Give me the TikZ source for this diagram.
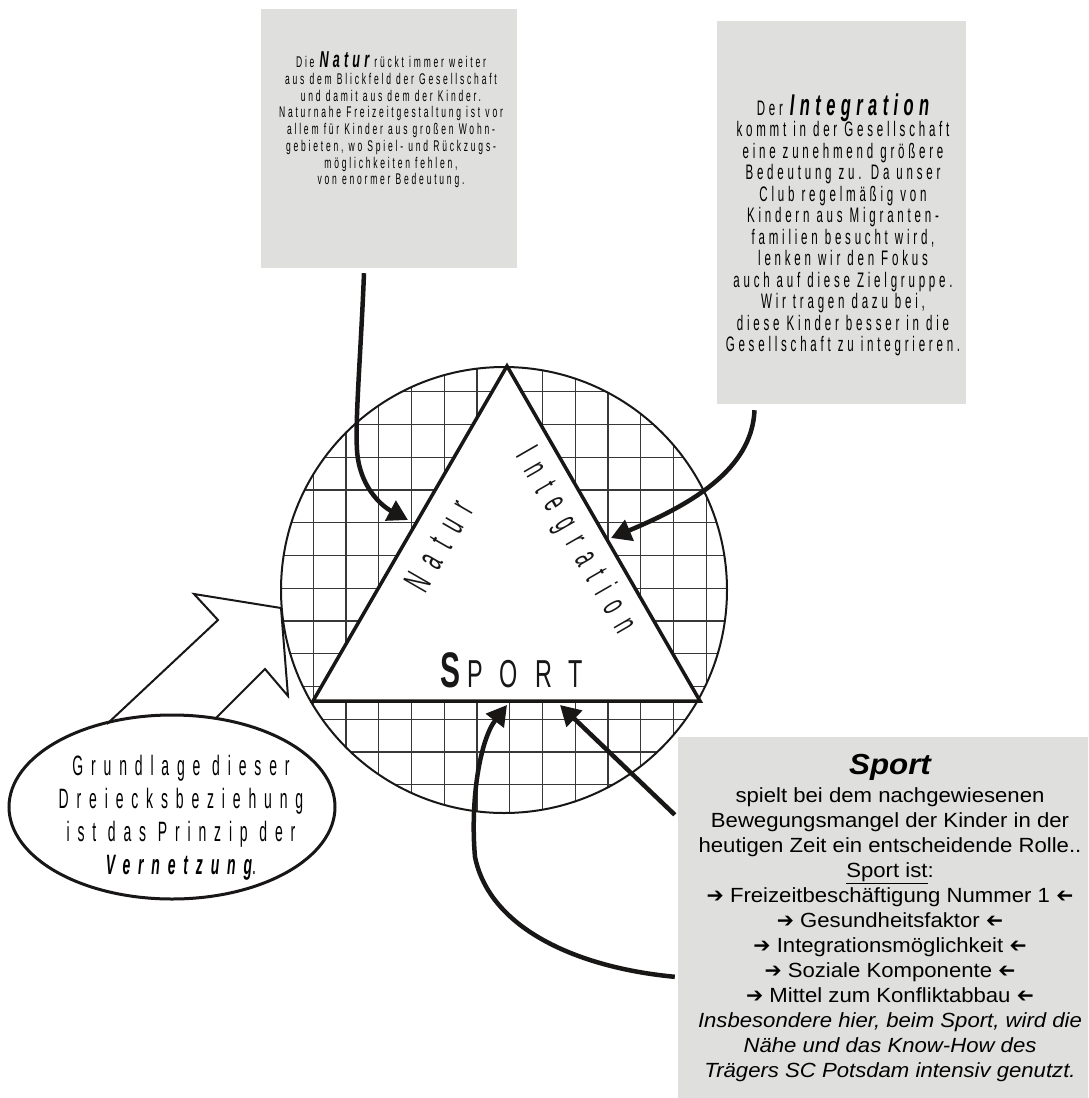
\documentclass[tikz,border=0pt]{standalone}
\usepackage{graphicx}
\usepackage{fontspec}
\setmainfont{Liberation Sans}
\newfontfamily\widesans[FakeStretch=1.08]{Liberation Sans}
\newfontfamily\smallnarrow[FakeStretch=0.55,LetterSpace=18]{Liberation Sans}
\newfontfamily\midnarrow[FakeStretch=0.55,LetterSpace=18]{Liberation Sans}
\newfontfamily\widenarrow[FakeStretch=0.5,LetterSpace=28]{Liberation Sans}
\newfontfamily\labelnarrow[FakeStretch=0.5,LetterSpace=34]{Liberation Sans}
\newfontfamily\baselabel[FakeStretch=0.6,LetterSpace=44]{Liberation Sans}
\newfontfamily\arrowfont{DejaVu Sans}
\usetikzlibrary{arrows.meta, shapes.geometric}
\definecolor{BoxGray}{RGB}{223,223,221}
\definecolor{InkBlack}{RGB}{25,22,22}
\definecolor{GridGray}{RGB}{55,55,55}
\newcommand{\rarr}{{\arrowfont ➔}}
\newcommand{\larr}{\reflectbox{\arrowfont ➔}}

\begin{document}
\begin{tikzpicture}[x=1pt, y=-1pt,
    textbox/.style={rectangle, fill=BoxGray, inner sep=0pt},
    ptr/.style={-{Triangle[length=20pt,width=22pt]}, line width=4.5pt, InkBlack},
    gridline/.style={GridGray, line width=1.3pt}
  ]
  \useasboundingbox (0,0) rectangle (1088,1098);

  % text boxes
  \node[textbox, minimum width=256pt, minimum height=259pt] (naturbox) at (389,138.5) {};
  \node[textbox, minimum width=249pt, minimum height=383pt] (integbox) at (841.5,212.5) {};
  \node[textbox, minimum width=410pt, minimum height=361pt] (sportbox) at (883,917.5) {};

  \node[align=center, font=\smallnarrow\fontsize{15.5}{16.7}\selectfont] (naturtext) at (391,120)
    {Die {\bfseries\itshape\fontsize{23}{16.7}\selectfont Natur} rückt immer weiter\\
     aus dem Blickfeld der Gesellschaft\\
     und damit aus dem der Kinder.\\
     Naturnahe Freizeitgestaltung ist vor\\
     allem für Kinder aus großen Wohn-\\
     gebieten, wo Spiel- und Rückzugs-\\
     möglichkeiten fehlen,\\
     von enormer Bedeutung.};
  \node[align=center, font=\midnarrow\fontsize{21}{21.5}\selectfont] (integtext) at (843,225)
    {Der {\bfseries\itshape\fontsize{30}{21.5}\selectfont Integration}\\
     kommt in der Gesellschaft\\
     eine zunehmend größere\\
     Bedeutung zu. Da unser\\
     Club regelmäßig von\\
     Kindern aus Migranten-\\
     familien besucht wird,\\
     lenken wir den Fokus\\
     auch auf diese Zielgruppe.\\
     Wir tragen dazu bei,\\
     diese Kinder besser in die\\
     Gesellschaft zu integrieren.};
  \node[align=center, font=\widesans\fontsize{20.5}{25}\selectfont] (sporttext) at (890,918)
    {{\bfseries\itshape\fontsize{29}{25}\selectfont Sport}\\[3pt]
     spielt bei dem nachgewiesenen\\
     Bewegungsmangel der Kinder in der\\
     heutigen Zeit ein entscheidende Rolle..\\
     \underline{Sport ist}:\\
     \rarr\ Freizeitbeschäftigung Nummer 1 \larr\\
     \rarr\ Gesundheitsfaktor \larr\\
     \rarr\ Integrationsmöglichkeit \larr\\
     \rarr\ Soziale Komponente \larr\\
     \rarr\ Mittel zum Konfliktabbau \larr\\
     \itshape Insbesondere hier, beim Sport, wird die\\
     \itshape Nähe und das Know-How des\\
     \itshape Trägers SC Potsdam intensiv genutzt.};

  % gridded circle with the triangle
  \coordinate (hub) at (504,590);
  \coordinate (apex) at (507,366);
  \coordinate (leftcorner) at (313,701);
  \coordinate (rightcorner) at (700,701);
  \fill[white] (hub) circle[radius=223];
  \begin{scope}
    \clip (hub) circle[radius=223];
    \foreach \i in {-1,...,13} {
      \draw[gridline] (313.3+32.75*\i,350) -- ++(0,480);
      \draw[gridline] (270,391.7+32.75*\i) -- ++(470,0);
    }
  \end{scope}
  \draw[InkBlack, line width=2pt] (hub) circle[radius=223];
  \filldraw[fill=white, draw=InkBlack, line width=3.5pt]
    (apex) -- (leftcorner) -- (rightcorner) -- cycle;

  \node[rotate=60, font=\labelnarrow\fontsize{38}{38}\selectfont, text=InkBlack] (naturlabel) at (439,546) {Natur};
  \node[rotate=-60, font=\labelnarrow\fontsize{36}{36}\selectfont, text=InkBlack] (integlabel) at (575,541) {Integration};
  \node[anchor=base, font=\baselabel\fontsize{39}{39}\selectfont, text=InkBlack] (sportlabel) at (512,687)
    {{\bfseries\fontsize{50}{50}\selectfont S}\,PORT};

  % speech bubble
  \node[ellipse, draw=InkBlack, line width=3pt, minimum width=326pt, minimum height=184pt] (basis) at (172,807) {};
  \node[align=center, font=\widenarrow\fontsize{28}{33}\selectfont] (basistext) at (181,818)
    {Grundlage dieser\\ Dreiecksbeziehung\\ ist das Prinzip der\\ {\bfseries\itshape Vernetzung}.};
  \draw[InkBlack, line width=2pt] (107,724) -- (218,620) -- (194,594) -- (281,608)
    -- (288,696) -- (265,669) -- (216,718);

  % pointers onto the triangle
  \coordinate (natstart) at ([xshift=-25pt, yshift=-5pt]naturbox.south);
  \coordinate (natbend) at (357,450);
  \coordinate (nattip) at (408,520);
  \draw[ptr] (natstart) .. controls (361,350) and (355,420) .. (natbend)
    .. controls (359,485) and (380,505) .. (nattip);

  \coordinate (intstart) at ([xshift=-87pt, yshift=-6pt]integbox.south);
  \coordinate (inttip) at (611,538);
  \draw[ptr] (intstart) .. controls (752,470) and (690,505) .. (inttip);

  \coordinate (sportstartA) at ([xshift=-3pt, yshift=-78pt]sportbox.north west);
  \coordinate (sporttipA) at (560,705);
  \draw[ptr] (sportstartA) -- (sporttipA);

  \coordinate (sportstartB) at ([xshift=-3pt, yshift=-240pt]sportbox.north west);
  \coordinate (sportbend) at (475,857);
  \coordinate (sporttipB) at (507,705);
  \draw[ptr] (sportstartB) .. controls (580,968) and (490,930) .. (sportbend)
    .. controls (470,800) and (480,740) .. (sporttipB);
\end{tikzpicture}
\end{document}
